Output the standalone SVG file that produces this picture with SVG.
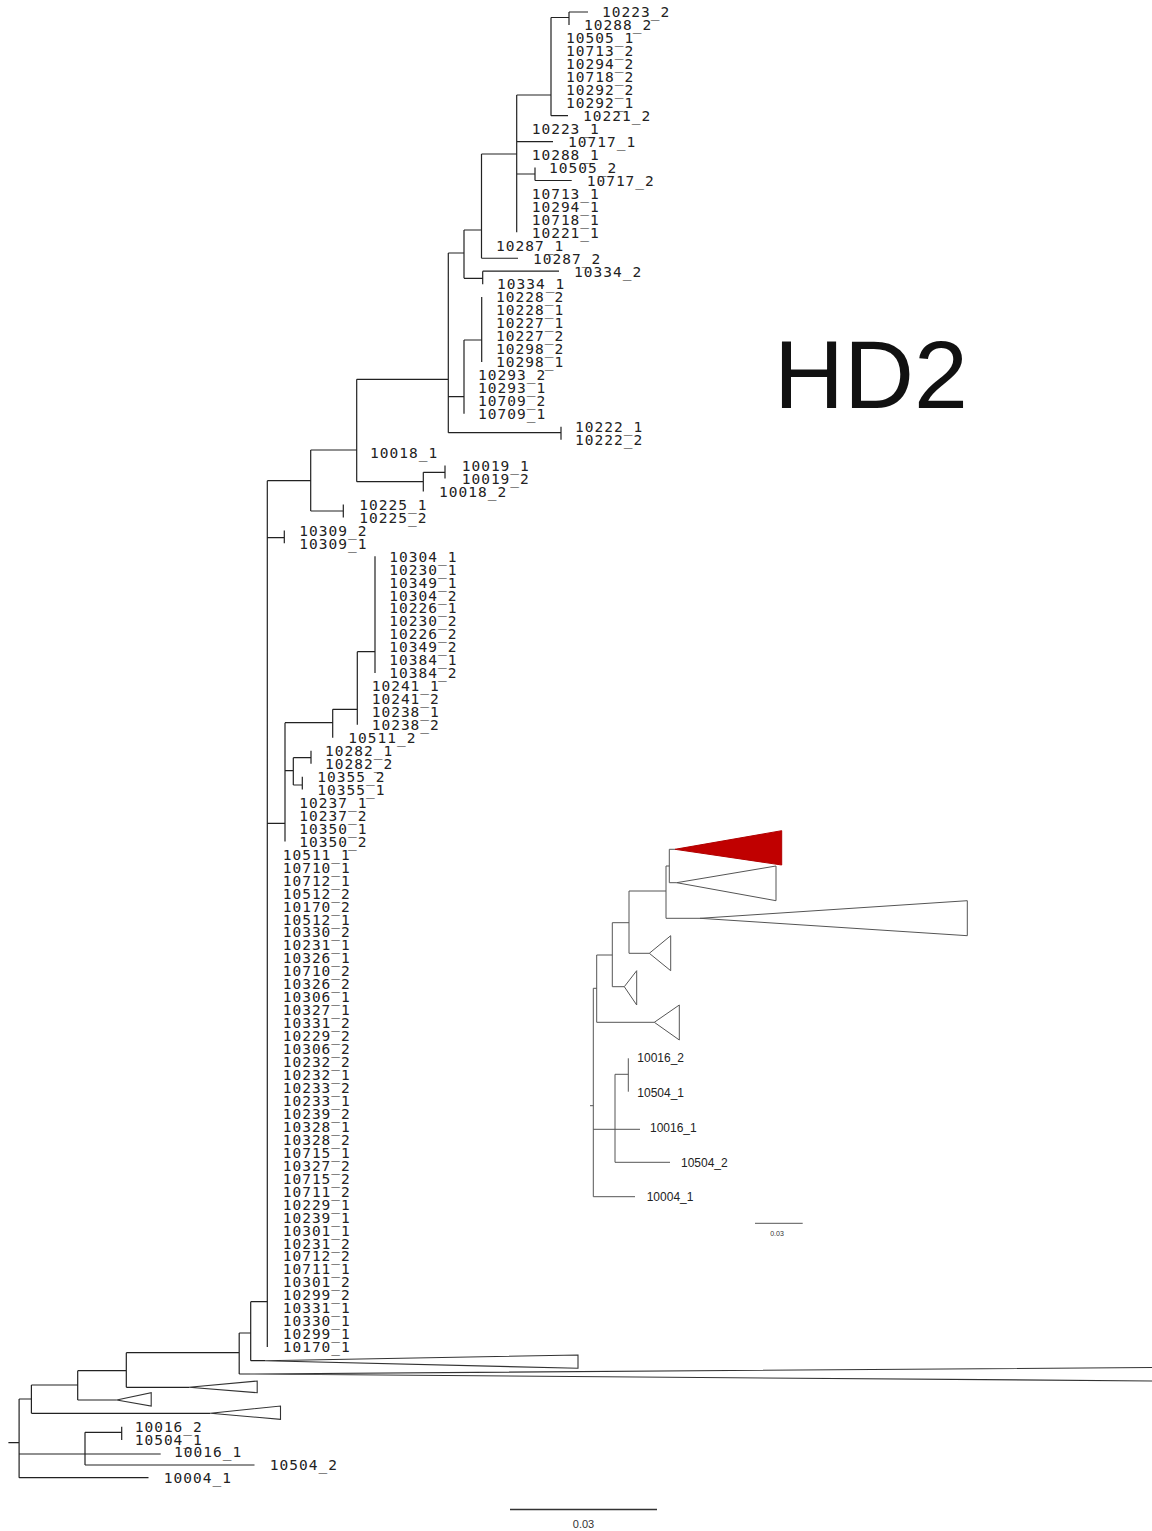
<svg xmlns="http://www.w3.org/2000/svg" width="1152" height="1531" viewBox="0 0 1152 1531">
<style>
.lb{font-family:"DejaVu Sans Mono","Liberation Mono",monospace;font-size:14.5px;letter-spacing:1px;fill:#222}
.il{font-family:"Liberation Sans",Arial,sans-serif;font-size:12px;fill:#222}
.br{fill:none;stroke:#222;stroke-width:1.2}
.ib{fill:none;stroke:#555;stroke-width:1}
.tri{fill:#fff;stroke:#333;stroke-width:1.1}
.itri{fill:#fff;stroke:#555;stroke-width:1}
.red{fill:#c00000;stroke:#b00000;stroke-width:1}
.sc{font-family:"Liberation Sans",Arial,sans-serif;fill:#333}
</style>
<rect width="1152" height="1531" fill="#fff"/>
<g id="connectors">
<path class="br" d="M569 12V24.96M569 12H588M551 17.5V115.68M551 17.5H569M551 115.68H568M516.7 95V232.32M516.7 95H551M516.7 141.6H553M516.7 174H535M535 167.52V180.48M535 180.48H571.7M481.5 154V258.24M481.5 154H516.7M481.5 258.24H518M464 230V278.3M464 230H481.5M464 278.3H482.7M482.7 271.2V284.16M482.7 271.2H559M481.7 297.12V361.92M464 340V413.76M464 340H481.7M448.3 253V432.7M448.3 253H464M448.3 396.7H464M448.3 432.7H561M561 426.72V439.68M356.7 379.3V481.7M356.7 379.3H448.3M356.7 481.7H423.3M423.3 472.3V491.52M423.3 472.3H445M445 465.6V478.56M310.7 450V511M310.7 450H356.7M310.7 511H343.3M343.3 504.48V517.44M267.3 480.7V1346.88M267.3 480.7H310.7M267.3 537.7H284.3M284.3 530.4V543.36M267.3 823.3H285M285 722.7V841.44M285 722.7H332.7M285 770.7H293.3M332.7 709.3V737.76M332.7 709.3H357.3M357.3 651.7V724.8M357.3 651.7H375M375 556.32V672.96M293.3 757.7V785M293.3 757.7H311M293.3 785H302.3M311 750.72V763.68M302.3 776.64V789.6"/>
<path class="br" d="M250.7 1301.7V1360.7M250.7 1301.7H267.3M250.7 1360.7H265M239.2 1333V1374M239.2 1333H250.7M239.2 1374H250M126.3 1352.7V1387.3M126.3 1352.7H239.2M126.3 1387.3H189M77.7 1370.7V1400M77.7 1370.7H126.3M77.7 1400H116.7M31.4 1385V1413.3M31.4 1385H77.7M31.4 1413.3H210.5M19.1 1399V1477.7M19.1 1399H31.4M19.1 1454H160.7M19.1 1477.7H148.5M8.4 1442.7H19.1M85 1432.3V1465M85 1432.3H121.7M85 1465H254.5M121.7 1426.7V1440"/>
<path class="ib" d="M669.3 849.3V882.7M669.3 849.3H675M669.3 882.7H676.7M666 866V918.3M666 866H669.3M666 918.3H700M629 891V953.3M629 891H666M629 953.3H649.3M612.3 922.7V986.7M612.3 922.7H629M612.3 986.7H624.3M596.7 955V1022.3M596.7 955H612.3M596.7 1022.3H654.3M593.3 988.3V1196.7M593.3 988.3H596.7M590 1105.7H593.3M593.3 1129.3H640M615 1074.3V1162.3M615 1074.3H628.3M628.3 1058.3V1091.7M615 1162.3H670M593.3 1196.7H635"/>
</g>
<g id="collapsed-main">
<polygon id="clade-t1" class="tri" points="265,1360.7 578,1355 578,1368.3"/>
<polygon id="clade-t2" class="tri" points="250,1374 1300,1366.4 1300,1382.1"/>
<polygon id="clade-t3" class="tri" points="189,1387.3 257.2,1381 257.2,1392.7"/>
<polygon id="clade-t4" class="tri" points="116.7,1400 151.2,1392.7 151.2,1406"/>
<polygon id="clade-t5" class="tri" points="210.5,1413.3 280.5,1406 280.5,1419.3"/>
</g>
<g id="collapsed-inset">
<polygon id="inset-red" class="red" points="675,849.3 781.7,830.7 781.7,865"/>
<polygon id="inset-w1" class="itri" points="676.7,882.7 776,866 776,900.7"/>
<polygon id="inset-w2" class="itri" points="700,918.3 967.3,900.7 967.3,935.7"/>
<polygon id="inset-w3" class="itri" points="649.3,953.3 670.7,935.7 670.7,970.7"/>
<polygon id="inset-w4" class="itri" points="624.3,986.7 636.7,970.7 636.7,1005"/>
<polygon id="inset-w5" class="itri" points="654.3,1022.3 679.3,1005 679.3,1040"/>
</g>
<g id="leaves" class="lb">
<g id="n1"><text x="602" y="17.3">10223_2</text></g>
<g id="n2"><text x="584" y="30.26">10288_2</text></g>
<g id="n3"><text x="566" y="43.22">10505_1</text></g>
<g id="n4"><text x="566" y="56.18">10713_2</text></g>
<g id="n5"><text x="566" y="69.14">10294_2</text></g>
<g id="n6"><text x="566" y="82.1">10718_2</text></g>
<g id="n7"><text x="566" y="95.06">10292_2</text></g>
<g id="n8"><text x="566" y="108.02">10292_1</text></g>
<g id="n9"><text x="583" y="120.98">10221_2</text></g>
<g id="n10"><text x="531.7" y="133.94">10223_1</text></g>
<g id="n11"><text x="568" y="146.9">10717_1</text></g>
<g id="n12"><text x="531.7" y="159.86">10288_1</text></g>
<g id="n13"><text x="549" y="172.82">10505_2</text></g>
<g id="n14"><text x="586.7" y="185.78">10717_2</text></g>
<g id="n15"><text x="531.7" y="198.74">10713_1</text></g>
<g id="n16"><text x="531.7" y="211.7">10294_1</text></g>
<g id="n17"><text x="531.7" y="224.66">10718_1</text></g>
<g id="n18"><text x="531.7" y="237.62">10221_1</text></g>
<g id="n19"><text x="496" y="250.58">10287_1</text></g>
<g id="n20"><text x="533" y="263.54">10287_2</text></g>
<g id="n21"><text x="574" y="276.5">10334_2</text></g>
<g id="n22"><text x="497" y="289.46">10334_1</text></g>
<g id="n23"><text x="496" y="302.42">10228_2</text></g>
<g id="n24"><text x="496" y="315.38">10228_1</text></g>
<g id="n25"><text x="496" y="328.34">10227_1</text></g>
<g id="n26"><text x="496" y="341.3">10227_2</text></g>
<g id="n27"><text x="496" y="354.26">10298_2</text></g>
<g id="n28"><text x="496" y="367.22">10298_1</text></g>
<g id="n29"><text x="478" y="380.18">10293_2</text></g>
<g id="n30"><text x="478" y="393.14">10293_1</text></g>
<g id="n31"><text x="478" y="406.1">10709_2</text></g>
<g id="n32"><text x="478" y="419.06">10709_1</text></g>
<g id="n33"><text x="575" y="432.02">10222_1</text></g>
<g id="n34"><text x="575" y="444.98">10222_2</text></g>
<g id="n35"><text x="370" y="457.94">10018_1</text></g>
<g id="n36"><text x="461.7" y="470.9">10019_1</text></g>
<g id="n37"><text x="461.7" y="483.86">10019_2</text></g>
<g id="n38"><text x="439" y="496.82">10018_2</text></g>
<g id="n39"><text x="359.3" y="509.78">10225_1</text></g>
<g id="n40"><text x="359.3" y="522.74">10225_2</text></g>
<g id="n41"><text x="299.3" y="535.7">10309_2</text></g>
<g id="n42"><text x="299.3" y="548.66">10309_1</text></g>
<g id="n43"><text x="389.3" y="561.62">10304_1</text></g>
<g id="n44"><text x="389.3" y="574.58">10230_1</text></g>
<g id="n45"><text x="389.3" y="587.54">10349_1</text></g>
<g id="n46"><text x="389.3" y="600.5">10304_2</text></g>
<g id="n47"><text x="389.3" y="613.46">10226_1</text></g>
<g id="n48"><text x="389.3" y="626.42">10230_2</text></g>
<g id="n49"><text x="389.3" y="639.38">10226_2</text></g>
<g id="n50"><text x="389.3" y="652.34">10349_2</text></g>
<g id="n51"><text x="389.3" y="665.3">10384_1</text></g>
<g id="n52"><text x="389.3" y="678.26">10384_2</text></g>
<g id="n53"><text x="371.7" y="691.22">10241_1</text></g>
<g id="n54"><text x="371.7" y="704.18">10241_2</text></g>
<g id="n55"><text x="371.7" y="717.14">10238_1</text></g>
<g id="n56"><text x="371.7" y="730.1">10238_2</text></g>
<g id="n57"><text x="348.3" y="743.06">10511_2</text></g>
<g id="n58"><text x="325" y="756.02">10282_1</text></g>
<g id="n59"><text x="325" y="768.98">10282_2</text></g>
<g id="n60"><text x="317.3" y="781.94">10355_2</text></g>
<g id="n61"><text x="317.3" y="794.9">10355_1</text></g>
<g id="n62"><text x="299.3" y="807.86">10237_1</text></g>
<g id="n63"><text x="299.3" y="820.82">10237_2</text></g>
<g id="n64"><text x="299.3" y="833.78">10350_1</text></g>
<g id="n65"><text x="299.3" y="846.74">10350_2</text></g>
<g id="n66"><text x="282.7" y="859.7">10511_1</text></g>
<g id="n67"><text x="282.7" y="872.66">10710_1</text></g>
<g id="n68"><text x="282.7" y="885.62">10712_1</text></g>
<g id="n69"><text x="282.7" y="898.58">10512_2</text></g>
<g id="n70"><text x="282.7" y="911.54">10170_2</text></g>
<g id="n71"><text x="282.7" y="924.5">10512_1</text></g>
<g id="n72"><text x="282.7" y="937.46">10330_2</text></g>
<g id="n73"><text x="282.7" y="950.42">10231_1</text></g>
<g id="n74"><text x="282.7" y="963.38">10326_1</text></g>
<g id="n75"><text x="282.7" y="976.34">10710_2</text></g>
<g id="n76"><text x="282.7" y="989.3">10326_2</text></g>
<g id="n77"><text x="282.7" y="1002.26">10306_1</text></g>
<g id="n78"><text x="282.7" y="1015.22">10327_1</text></g>
<g id="n79"><text x="282.7" y="1028.18">10331_2</text></g>
<g id="n80"><text x="282.7" y="1041.14">10229_2</text></g>
<g id="n81"><text x="282.7" y="1054.1">10306_2</text></g>
<g id="n82"><text x="282.7" y="1067.06">10232_2</text></g>
<g id="n83"><text x="282.7" y="1080.02">10232_1</text></g>
<g id="n84"><text x="282.7" y="1092.98">10233_2</text></g>
<g id="n85"><text x="282.7" y="1105.94">10233_1</text></g>
<g id="n86"><text x="282.7" y="1118.9">10239_2</text></g>
<g id="n87"><text x="282.7" y="1131.86">10328_1</text></g>
<g id="n88"><text x="282.7" y="1144.82">10328_2</text></g>
<g id="n89"><text x="282.7" y="1157.78">10715_1</text></g>
<g id="n90"><text x="282.7" y="1170.74">10327_2</text></g>
<g id="n91"><text x="282.7" y="1183.7">10715_2</text></g>
<g id="n92"><text x="282.7" y="1196.66">10711_2</text></g>
<g id="n93"><text x="282.7" y="1209.62">10229_1</text></g>
<g id="n94"><text x="282.7" y="1222.58">10239_1</text></g>
<g id="n95"><text x="282.7" y="1235.54">10301_1</text></g>
<g id="n96"><text x="282.7" y="1248.5">10231_2</text></g>
<g id="n97"><text x="282.7" y="1261.46">10712_2</text></g>
<g id="n98"><text x="282.7" y="1274.42">10711_1</text></g>
<g id="n99"><text x="282.7" y="1287.38">10301_2</text></g>
<g id="n100"><text x="282.7" y="1300.34">10299_2</text></g>
<g id="n101"><text x="282.7" y="1313.3">10331_1</text></g>
<g id="n102"><text x="282.7" y="1326.26">10330_1</text></g>
<g id="n103"><text x="282.7" y="1339.22">10299_1</text></g>
<g id="n104"><text x="282.7" y="1352.18">10170_1</text></g>
<g id="b1"><text x="134.7" y="1432">10016_2</text></g>
<g id="b2"><text x="134.7" y="1445.3">10504_1</text></g>
<g id="b3"><text x="174.1" y="1457.3">10016_1</text></g>
<g id="b4"><text x="269.8" y="1470.3">10504_2</text></g>
<g id="b5"><text x="163.8" y="1483">10004_1</text></g>
</g>
<g id="inset-leaves" class="il">
<g id="i1"><text x="637.3" y="1062">10016_2</text></g>
<g id="i2"><text x="637.3" y="1097">10504_1</text></g>
<g id="i3"><text x="650" y="1132">10016_1</text></g>
<g id="i4"><text x="681" y="1166.5">10504_2</text></g>
<g id="i5"><text x="646.7" y="1201">10004_1</text></g>
</g>
<g id="scale-main">
<line x1="510" y1="1509.5" x2="657" y2="1509.5" stroke="#333" stroke-width="1.3"/>
<text class="sc" x="583.5" y="1528" font-size="11" text-anchor="middle">0.03</text>
</g>
<g id="scale-inset">
<line x1="755" y1="1223.3" x2="802.7" y2="1223.3" stroke="#555" stroke-width="1"/>
<text class="sc" x="777" y="1236" font-size="7" text-anchor="middle">0.03</text>
</g>
<g id="title">
<text x="774" y="408" font-family="Liberation Sans, Arial, sans-serif" font-size="96" textLength="194" lengthAdjust="spacingAndGlyphs" fill="#111">HD2</text>
</g>
</svg>
